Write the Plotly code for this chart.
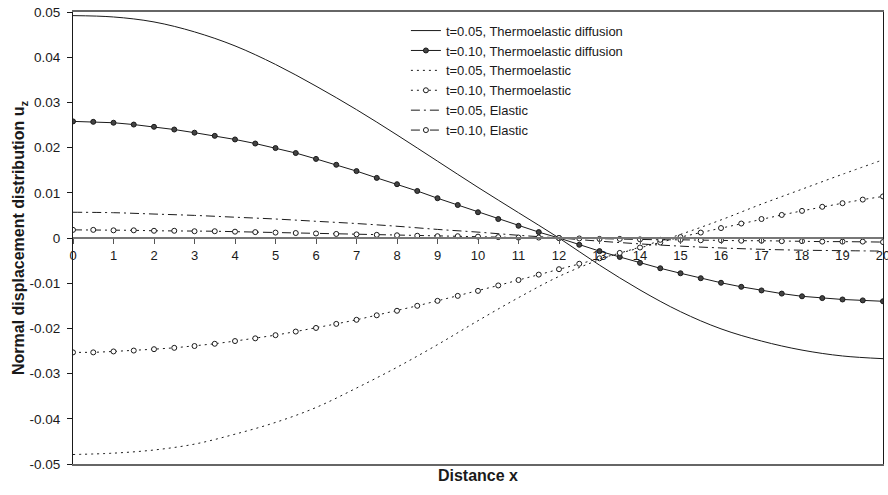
import plotly.graph_objects as go

# ---- data ----
x_int = [0, 1, 2, 3, 4, 5, 6, 7, 8, 9, 10, 11, 12, 13, 14, 15, 16, 17, 18, 19, 20]
x_half = [0, 0.5, 1, 1.5, 2, 2.5, 3, 3.5, 4, 4.5, 5, 5.5, 6, 6.5, 7, 7.5, 8, 8.5, 9, 9.5,
          10, 10.5, 11, 11.5, 12, 12.5, 13, 13.5, 14, 14.5, 15, 15.5, 16, 16.5, 17, 17.5,
          18, 18.5, 19, 19.5, 20]

ted_005 = [0.0492, 0.0489, 0.0478, 0.0456, 0.0425, 0.0384, 0.0336, 0.0284, 0.0228, 0.0170,
           0.0112, 0.0056, 0.0, -0.0060, -0.0115, -0.0163, -0.0201, -0.0228, -0.0248,
           -0.0261, -0.0267]
ted_010 = [0.0258, 0.0257, 0.0255, 0.0251, 0.0246, 0.0240, 0.0233, 0.0226, 0.0218, 0.0209,
           0.0199, 0.0188, 0.0175, 0.0162, 0.0148, 0.0133, 0.0119, 0.0104, 0.0088, 0.0073,
           0.0057, 0.0042, 0.0027, 0.0013, 0.0, -0.0015, -0.0029, -0.0042, -0.0055, -0.0067,
           -0.0078, -0.0089, -0.0099, -0.0108, -0.0116, -0.0123, -0.0129, -0.0133, -0.0136,
           -0.0138, -0.0140]
te_005 = [-0.0479, -0.0476, -0.0469, -0.0456, -0.0434, -0.0408, -0.0375, -0.0332, -0.0286,
          -0.0236, -0.0183, -0.0132, -0.0085, -0.0048, -0.0020, 0.0008, 0.0040, 0.0075,
          0.0108, 0.0141, 0.0173]
te_010 = [-0.0253, -0.0253, -0.0251, -0.0249, -0.0246, -0.0243, -0.0239, -0.0234, -0.0228,
          -0.0222, -0.0215, -0.0207, -0.0199, -0.0190, -0.0181, -0.0171, -0.0161, -0.0150,
          -0.0139, -0.0128, -0.0117, -0.0105, -0.0093, -0.0081, -0.0069, -0.0057, -0.0045,
          -0.0033, -0.0021, -0.0010, 0.0002, 0.0012, 0.0022, 0.0032, 0.0042, 0.0051, 0.0060,
          0.0069, 0.0077, 0.0085, 0.0092]
el_005 = [0.0057, 0.0056, 0.0053, 0.0050, 0.0046, 0.0042, 0.0037, 0.0032, 0.0026, 0.0019,
          0.0013, 0.0006, 0.0, -0.0007, -0.0013, -0.0018, -0.0022, -0.0025, -0.0027,
          -0.0028, -0.0029]
el_010 = [0.0018, 0.0018, 0.0017, 0.0017, 0.0016, 0.0016, 0.0015, 0.0015, 0.0014, 0.0013,
          0.0012, 0.0011, 0.0010, 0.0009, 0.0008, 0.0007, 0.0006, 0.0005, 0.0004, 0.0004,
          0.0003, 0.0002, 0.0001, 0.0001, 0.0, -0.0001, -0.0002, -0.0002, -0.0003, -0.0004,
          -0.0004, -0.0005, -0.0005, -0.0006, -0.0006, -0.0007, -0.0007, -0.0008, -0.0008,
          -0.0008, -0.0009]

names = ["t=0.05, Thermoelastic diffusion", "t=0.10, Thermoelastic diffusion",
         "t=0.05, Thermoelastic", "t=0.10, Thermoelastic",
         "t=0.05, Elastic", "t=0.10, Elastic"]

y_ticks = [0.05, 0.04, 0.03, 0.02, 0.01, 0, -0.01, -0.02, -0.03, -0.04, -0.05]
y_ticktext = ["0.05", "0.04", "0.03", "0.02", "0.01", "0", "-0.01", "-0.02", "-0.03", "-0.04", "-0.05"]
x_ticks = x_int

FONT = "Arial, Liberation Sans, sans-serif"
INK = "#1a1a1a"

fig = go.Figure()
fig.add_trace(go.Scatter(x=x_int, y=ted_005, name=names[0], mode="lines",
                         line=dict(color=INK, width=1, shape="spline")))
fig.add_trace(go.Scatter(x=x_half, y=ted_010, name=names[1], mode="lines+markers",
                         line=dict(color=INK, width=1),
                         marker=dict(symbol="circle", size=5, color="#444",
                                     line=dict(color=INK, width=1))))
fig.add_trace(go.Scatter(x=x_int, y=te_005, name=names[2], mode="lines",
                         line=dict(color=INK, width=1, dash="2px,4px", shape="spline")))
fig.add_trace(go.Scatter(x=x_half, y=te_010, name=names[3], mode="lines+markers",
                         line=dict(color=INK, width=1, dash="2px,4px"),
                         marker=dict(symbol="circle", size=5, color="white",
                                     line=dict(color=INK, width=1))))
fig.add_trace(go.Scatter(x=x_int, y=el_005, name=names[4], mode="lines",
                         line=dict(color=INK, width=1, dash="9px,4px,2px,4px", shape="spline")))
fig.add_trace(go.Scatter(x=x_half, y=el_010, name=names[5], mode="lines+markers",
                         line=dict(color=INK, width=1, dash="9px,4px,2px,4px"),
                         marker=dict(symbol="circle", size=5, color="white",
                                     line=dict(color=INK, width=1))))
# empty trace to bind the bottom frame axis
fig.add_trace(go.Scatter(x=[], y=[], xaxis="x2", showlegend=False, hoverinfo="skip"))

fig.update_layout(
    width=888, height=495,
    margin=dict(l=73, r=5, t=12, b=31, autoexpand=False),
    paper_bgcolor="white", plot_bgcolor="white",
    font=dict(family=FONT, color=INK, size=13),
    showlegend=True,
    legend=dict(x=0.411, y=0.992, xanchor="left", yanchor="top",
                bgcolor="rgba(0,0,0,0)", font=dict(size=13, family=FONT, color=INK),
                tracegroupgap=0),
    xaxis=dict(range=[0, 20], anchor="free", position=0.5, automargin=False,
               tickvals=x_ticks, ticks="outside", ticklen=5, tickwidth=1,
               ticklabeloverflow="allow",
               tickcolor="#555", showline=True, linecolor="#777", linewidth=2,
               showgrid=False, zeroline=False, tickfont=dict(size=13, family=FONT, color=INK)),
    xaxis2=dict(range=[0, 20], overlaying="x", anchor="y", side="bottom", automargin=False,
                showticklabels=False, ticks="", showline=True, mirror=True,
                linecolor="#666", linewidth=1.5, showgrid=False, zeroline=False,
                title=dict(text="<b>Distance x</b>", standoff=5,
                           font=dict(size=16, family=FONT, color=INK))),
    yaxis=dict(range=[-0.05, 0.05], tickvals=y_ticks, ticktext=y_ticktext, automargin=False,
               ticks="outside", ticklen=5, tickwidth=1, tickcolor=INK,
               ticklabeloverflow="allow", ticklabelstandoff=4,
               showline=True, linecolor=INK, linewidth=1, mirror=True,
               showgrid=False, zeroline=False, tickfont=dict(size=13.5, family=FONT, color=INK),
               title=dict(text="<b>Normal displacement distribution u<sub>z</sub></b>",
                          standoff=0, font=dict(size=16, family=FONT, color=INK))),
)

fig.write_html("out.html", config={"displayModeBar": False},
               post_script="document.body.style.margin='0';document.body.style.overflow='hidden';")
